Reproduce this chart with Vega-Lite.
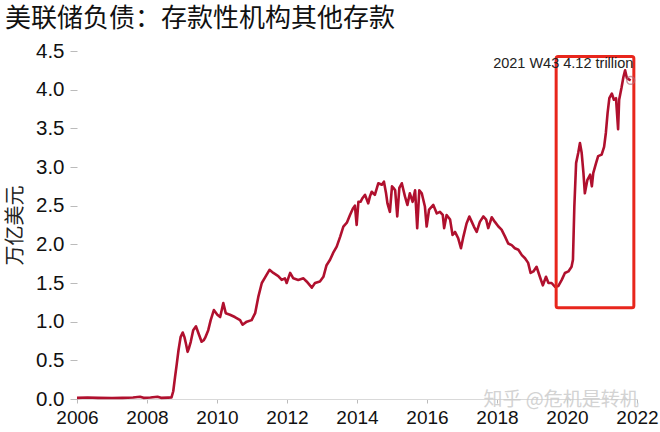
{
  "$schema": "https://vega.github.io/schema/vega-lite/v6.json",
  "width": 560,
  "height": 348,
  "autosize": {"type": "none"},
  "padding": {"left": 77, "top": 51, "right": 23, "bottom": 33},
  "background": "white",
  "config": {"view": {"stroke": null}},
  "title": {"text": "美联储负债：存款性机构其他存款", "anchor": "start", "frame": "group", "dx": -72, "offset": -4, "font": "Noto Sans CJK SC", "fontSize": 26, "fontWeight": "normal", "color": "#111111", "baseline": "middle"},
  "datasets": {
    "series": [
      {"t": 2006.0, "v": 0.015}, {"t": 2006.3, "v": 0.02}, {"t": 2006.6, "v": 0.015}, {"t": 2007.0, "v": 0.012},
      {"t": 2007.3, "v": 0.015}, {"t": 2007.6, "v": 0.02}, {"t": 2007.8, "v": 0.03}, {"t": 2007.9, "v": 0.015},
      {"t": 2008.1, "v": 0.02}, {"t": 2008.3, "v": 0.03}, {"t": 2008.4, "v": 0.015}, {"t": 2008.6, "v": 0.018},
      {"t": 2008.7, "v": 0.02}, {"t": 2008.75, "v": 0.1}, {"t": 2008.8, "v": 0.28}, {"t": 2008.85, "v": 0.45},
      {"t": 2008.9, "v": 0.63}, {"t": 2008.96, "v": 0.80}, {"t": 2009.02, "v": 0.86}, {"t": 2009.07, "v": 0.80},
      {"t": 2009.11, "v": 0.72}, {"t": 2009.16, "v": 0.61}, {"t": 2009.2, "v": 0.66}, {"t": 2009.25, "v": 0.74},
      {"t": 2009.32, "v": 0.89}, {"t": 2009.4, "v": 0.94}, {"t": 2009.47, "v": 0.85}, {"t": 2009.56, "v": 0.74},
      {"t": 2009.62, "v": 0.76}, {"t": 2009.66, "v": 0.79}, {"t": 2009.75, "v": 0.89}, {"t": 2009.82, "v": 1.02},
      {"t": 2009.91, "v": 1.15}, {"t": 2010.01, "v": 1.09}, {"t": 2010.09, "v": 1.06}, {"t": 2010.18, "v": 1.24},
      {"t": 2010.25, "v": 1.11}, {"t": 2010.37, "v": 1.09}, {"t": 2010.51, "v": 1.06}, {"t": 2010.66, "v": 1.02},
      {"t": 2010.73, "v": 0.96}, {"t": 2010.85, "v": 1.00}, {"t": 2010.99, "v": 1.02}, {"t": 2011.09, "v": 1.11},
      {"t": 2011.18, "v": 1.32}, {"t": 2011.28, "v": 1.50}, {"t": 2011.37, "v": 1.57}, {"t": 2011.5, "v": 1.67},
      {"t": 2011.61, "v": 1.63}, {"t": 2011.75, "v": 1.59}, {"t": 2011.85, "v": 1.54}, {"t": 2011.94, "v": 1.56},
      {"t": 2011.99, "v": 1.50}, {"t": 2012.09, "v": 1.63}, {"t": 2012.18, "v": 1.56}, {"t": 2012.32, "v": 1.54},
      {"t": 2012.47, "v": 1.56}, {"t": 2012.56, "v": 1.52}, {"t": 2012.71, "v": 1.44}, {"t": 2012.8, "v": 1.50},
      {"t": 2012.94, "v": 1.52}, {"t": 2013.04, "v": 1.58}, {"t": 2013.13, "v": 1.73}, {"t": 2013.23, "v": 1.80},
      {"t": 2013.33, "v": 1.90}, {"t": 2013.42, "v": 1.97}, {"t": 2013.52, "v": 2.10}, {"t": 2013.61, "v": 2.23},
      {"t": 2013.71, "v": 2.28}, {"t": 2013.8, "v": 2.38}, {"t": 2013.88, "v": 2.46}, {"t": 2013.94, "v": 2.50},
      {"t": 2013.99, "v": 2.25}, {"t": 2014.04, "v": 2.55}, {"t": 2014.1, "v": 2.55}, {"t": 2014.16, "v": 2.60},
      {"t": 2014.23, "v": 2.64}, {"t": 2014.32, "v": 2.53}, {"t": 2014.37, "v": 2.62}, {"t": 2014.42, "v": 2.68},
      {"t": 2014.51, "v": 2.64}, {"t": 2014.61, "v": 2.79}, {"t": 2014.71, "v": 2.77}, {"t": 2014.77, "v": 2.81},
      {"t": 2014.83, "v": 2.66}, {"t": 2014.87, "v": 2.53}, {"t": 2014.94, "v": 2.42}, {"t": 2015.0, "v": 2.75},
      {"t": 2015.06, "v": 2.72}, {"t": 2015.09, "v": 2.70}, {"t": 2015.15, "v": 2.36}, {"t": 2015.21, "v": 2.73},
      {"t": 2015.28, "v": 2.79}, {"t": 2015.37, "v": 2.62}, {"t": 2015.44, "v": 2.51}, {"t": 2015.51, "v": 2.66},
      {"t": 2015.59, "v": 2.55}, {"t": 2015.66, "v": 2.70}, {"t": 2015.72, "v": 2.21}, {"t": 2015.78, "v": 2.70},
      {"t": 2015.85, "v": 2.66}, {"t": 2015.94, "v": 2.49}, {"t": 2015.99, "v": 2.23}, {"t": 2016.06, "v": 2.45},
      {"t": 2016.18, "v": 2.51}, {"t": 2016.28, "v": 2.40}, {"t": 2016.37, "v": 2.42}, {"t": 2016.45, "v": 2.38},
      {"t": 2016.49, "v": 2.21}, {"t": 2016.56, "v": 2.38}, {"t": 2016.66, "v": 2.32}, {"t": 2016.73, "v": 2.12},
      {"t": 2016.8, "v": 2.16}, {"t": 2016.89, "v": 2.08}, {"t": 2016.97, "v": 1.95}, {"t": 2017.04, "v": 2.10},
      {"t": 2017.13, "v": 2.27}, {"t": 2017.21, "v": 2.36}, {"t": 2017.28, "v": 2.29}, {"t": 2017.34, "v": 2.23},
      {"t": 2017.42, "v": 2.16}, {"t": 2017.51, "v": 2.29}, {"t": 2017.61, "v": 2.36}, {"t": 2017.69, "v": 2.32},
      {"t": 2017.75, "v": 2.21}, {"t": 2017.85, "v": 2.35}, {"t": 2017.94, "v": 2.29}, {"t": 2018.04, "v": 2.23},
      {"t": 2018.13, "v": 2.19}, {"t": 2018.23, "v": 2.10}, {"t": 2018.32, "v": 2.01}, {"t": 2018.42, "v": 1.99},
      {"t": 2018.51, "v": 1.95}, {"t": 2018.61, "v": 1.93}, {"t": 2018.71, "v": 1.86}, {"t": 2018.8, "v": 1.82},
      {"t": 2018.89, "v": 1.76}, {"t": 2018.96, "v": 1.63}, {"t": 2019.04, "v": 1.65}, {"t": 2019.13, "v": 1.71},
      {"t": 2019.21, "v": 1.60}, {"t": 2019.31, "v": 1.47}, {"t": 2019.4, "v": 1.58}, {"t": 2019.47, "v": 1.50},
      {"t": 2019.56, "v": 1.50}, {"t": 2019.66, "v": 1.45}, {"t": 2019.75, "v": 1.46}, {"t": 2019.85, "v": 1.54},
      {"t": 2019.94, "v": 1.63}, {"t": 2020.04, "v": 1.65}, {"t": 2020.13, "v": 1.71}, {"t": 2020.17, "v": 1.80},
      {"t": 2020.21, "v": 2.49}, {"t": 2020.26, "v": 3.05}, {"t": 2020.32, "v": 3.18}, {"t": 2020.37, "v": 3.31},
      {"t": 2020.42, "v": 3.18}, {"t": 2020.47, "v": 2.92}, {"t": 2020.51, "v": 2.66}, {"t": 2020.58, "v": 2.83},
      {"t": 2020.66, "v": 2.90}, {"t": 2020.71, "v": 2.75}, {"t": 2020.75, "v": 2.92}, {"t": 2020.83, "v": 3.05},
      {"t": 2020.89, "v": 3.14}, {"t": 2020.99, "v": 3.16}, {"t": 2021.06, "v": 3.26}, {"t": 2021.11, "v": 3.44},
      {"t": 2021.16, "v": 3.70}, {"t": 2021.21, "v": 3.89}, {"t": 2021.28, "v": 3.95}, {"t": 2021.34, "v": 3.87},
      {"t": 2021.4, "v": 3.89}, {"t": 2021.46, "v": 3.49}, {"t": 2021.49, "v": 3.87}, {"t": 2021.56, "v": 4.03},
      {"t": 2021.61, "v": 4.16}, {"t": 2021.66, "v": 4.25}, {"t": 2021.71, "v": 4.15}, {"t": 2021.78, "v": 4.13},
      {"t": 2021.82, "v": 4.12}
    ],
    "box": [{"t": 2019.69, "t2": 2021.91, "v": 1.18, "v2": 4.43}],
    "last": [{"t": 2021.82, "v": 4.12}],
    "note": [{"t": 2017.89, "v": 4.33, "label": "2021 W43 4.12 trillion"}],
    "mark": [{"t": 2019.83, "v": -0.015, "label": "知乎 @危机是转机"}]
  },
  "encoding": {
    "x": {"field": "t", "type": "quantitative",
          "scale": {"domain": [2006, 2022], "nice": false, "zero": false},
          "axis": {"values": [2006, 2008, 2010, 2012, 2014, 2016, 2018, 2020, 2022], "format": "d", "title": null, "grid": false,
                   "domainColor": "#d9d9d9", "domainWidth": 1, "tickColor": "#bbbbbb", "tickSize": 4, "labelPadding": 5,
                   "labelFont": "Liberation Sans", "labelFontSize": 19, "labelColor": "#111111", "labelFlush": false, "labelOverlap": false}},
    "y": {"field": "v", "type": "quantitative",
          "scale": {"domain": [0, 4.5], "nice": false},
          "axis": {"values": [0, 0.5, 1, 1.5, 2, 2.5, 3, 3.5, 4, 4.5], "format": ".1f", "title": "万亿美元", "grid": false,
                   "domain": false, "tickColor": "#bbbbbb", "tickSize": 7, "labelPadding": 6, "labelOverlap": false,
                   "labelFont": "Liberation Sans", "labelFontSize": 20.5, "labelColor": "#111111",
                   "titleFont": "Noto Sans CJK SC", "titleFontSize": 20, "titleFontWeight": "normal", "titleColor": "#222222",
                   "titleX": -62, "titleY": 174, "titleAngle": -90, "titleAlign": "center", "titleBaseline": "middle"}}
  },
  "layer": [
    {
      "data": {"name": "series"},
      "mark": {"type": "line", "color": "#B0102E", "strokeWidth": 2.6, "strokeJoin": "round"}
    },
    {
      "data": {"name": "box"},
      "mark": {"type": "rect", "fill": null, "stroke": "#E8261C", "strokeWidth": 3, "cornerRadius": 2},
      "encoding": {
        "x2": {"field": "t2"},
        "y2": {"field": "v2"}
      }
    },
    {
      "data": {"name": "last"},
      "mark": {"type": "point", "filled": false, "color": "#b56a78", "strokeWidth": 1.5, "size": 60}
    },
    {
      "data": {"name": "note"},
      "mark": {"type": "text", "align": "left", "baseline": "middle", "font": "Liberation Sans", "fontSize": 14.5, "color": "#222222"},
      "encoding": {"text": {"field": "label"}}
    },
    {
      "data": {"name": "mark"},
      "mark": {"type": "text", "align": "center", "baseline": "middle", "font": "Noto Sans CJK SC", "fontSize": 19, "color": "#cccccc", "opacity": 0.85},
      "encoding": {"text": {"field": "label"}}
    }
  ]
}
